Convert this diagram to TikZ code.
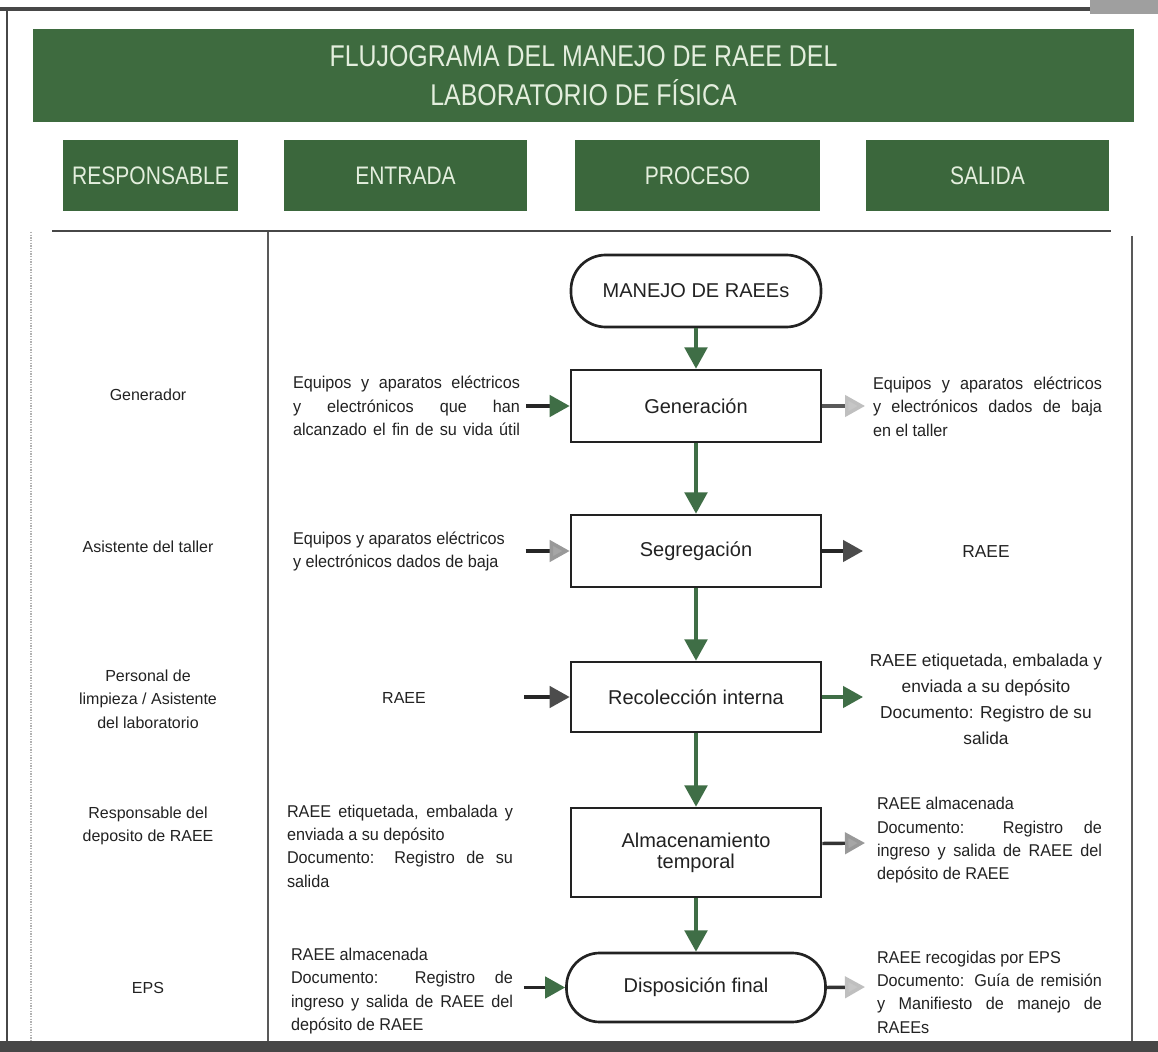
\documentclass[tikz,border=0pt]{standalone}
\usepackage{fontspec}
\setmainfont{Liberation Sans}
\newfontfamily\condfont[FakeStretch=0.83]{Liberation Sans}
\newfontfamily\narrowfont[FakeStretch=0.95]{Liberation Sans}
\usetikzlibrary{arrows.meta}
\definecolor{bannergreen}{HTML}{3E6B3F}
\definecolor{hdrgreen}{HTML}{3B673C}
\definecolor{lightgreen}{HTML}{E3EEDD}
\definecolor{arrowgreen}{HTML}{3F6E46}
\definecolor{ink}{HTML}{222222}
\definecolor{framegray}{HTML}{474747}
\begin{document}
\begin{tikzpicture}[x=0.75pt,y=-0.75pt,
  hdr/.style={fill=hdrgreen, text=lightgreen, minimum height=53.25pt, inner sep=0pt, font=\condfont\fontsize{19}{21}\selectfont},
  proc/.style={draw=ink, line width=2pt, fill=white, minimum width=187.5pt, minimum height=54pt, align=center, inner sep=2pt, text=ink, font=\fontsize{15}{16}\selectfont},
  term/.style={proc, rounded corners=26pt},
  body/.style={text=ink, inner sep=0pt, font=\fontsize{12}{17.5}\selectfont},
  jbody/.style={body, align=justify, font=\narrowfont\fontsize{12.8}{17.5}\selectfont},
  vflow/.style={draw=arrowgreen, line width=2.6pt, -{Triangle[length=16pt,width=17pt]}},
  hflow/.style={draw=#1, line width=2.6pt},
  tipgreen/.style={-{Triangle[length=15pt,width=16pt,fill=arrowgreen,color=arrowgreen]}},
  tipgray/.style={-{Triangle[length=15pt,width=16pt,fill=gray!70,color=gray!80]}},
  tiplight/.style={-{Triangle[length=15pt,width=16pt,fill=gray!45,color=gray!50]}},
  tipdark/.style={-{Triangle[length=15pt,width=16pt,fill=gray!60!black,color=gray!60!black]}}
]
\useasboundingbox (0,0) rectangle (1158,1052);
\fill[white] (0,0) rectangle (1158,1052);

% frame lines
\draw[framegray, line width=3pt] (0,9) -- (1090,9);
\fill[gray!75] (1090,0) rectangle (1158,14);
\draw[framegray, line width=1.2pt] (7,9) -- (7,1045);
\draw[gray!60, line width=1pt, densely dotted] (31,232) -- (31,1045);
\draw[gray!70!black, line width=1.3pt] (268,232) -- (268,1045);
\draw[framegray, line width=1.4pt] (52,231) -- (1111,231);
\draw[gray!70!black, line width=0.9pt] (1132,236) -- (1132,1045);
\fill[framegray] (0,1041) rectangle (1158,1052);

% title and headers
\node[fill=bannergreen, minimum width=825.75pt, minimum height=69.75pt, inner sep=0pt,
      text=lightgreen, align=center, font=\condfont\fontsize{22.5}{29.25}\selectfont]
      (title) at (583.5,75.5) {FLUJOGRAMA DEL MANEJO DE RAEE DEL\\LABORATORIO DE FÍSICA};
\node[hdr, minimum width=131.25pt] (hresp) at (150.5,175.5) {RESPONSABLE};
\node[hdr, minimum width=182.25pt] (hent) at (405.5,175.5) {ENTRADA};
\node[hdr, minimum width=183.75pt] (hproc) at (697.5,175.5) {PROCESO};
\node[hdr, minimum width=182.25pt] (hsal) at (987.5,175.5) {SALIDA};

% responsables
\node[body, align=center] (r1) at (148,395) {Generador};
\node[body, align=center] (r2) at (148,547) {Asistente del taller};
\node[body, align=center] (r3) at (148,699) {Personal de\\limpieza / Asistente\\del laboratorio};
\node[body, align=center] (r4) at (148,826) {Responsable del\\deposito de RAEE};
\node[body, align=center] (r5) at (148,988) {EPS};

% process
\node[term] (start) at (696,291) {MANEJO DE RAEEs};
\node[proc] (gen) at (696,406) {Generación};
\node[proc] (seg) at (696,551) {Segregación};
\node[proc, minimum height=52.5pt] (rec) at (696,697) {Recolección interna};
\node[proc, minimum height=66.75pt] (alm) at (696,852.5) {Almacenamiento\\temporal};
\node[term, minimum width=194.25pt, minimum height=51.75pt, rounded corners=25pt] (disp) at (696,987.5) {Disposición final};

\draw[vflow] (start) -- (gen);
\draw[vflow] (gen) -- (seg);
\draw[vflow] (seg) -- (rec);
\draw[vflow] (rec) -- (alm);
\draw[vflow] (alm) -- (disp);

% entradas
\node[jbody, text width=170.25pt] (e1) at (406.5,406) {Equipos y aparatos eléctricos\linebreak y electrónicos que han\linebreak \hbox to \linewidth{alcanzado\hfill el\hfill fin\hfill de\hfill su\hfill vida\hfill útil}};
\node[jbody, text width=168.75pt] (e2) at (405.5,551.5) {Equipos y aparatos eléctricos\\y electrónicos dados de baja};
\node[body] (e3) at (404,698) {RAEE};
\node[jbody, text width=169.5pt] (e4) at (400,846) {RAEE etiquetada, embalada y\linebreak enviada a su depósito\\Documento: Registro de su\linebreak salida};
\node[jbody, text width=166.5pt] (e5) at (402,991) {RAEE almacenada\\Documento: Registro de\linebreak ingreso y salida de RAEE del\linebreak depósito de RAEE};

\coordinate (c3) at (524,697);
\draw[hflow=gray!30!black, tipgreen, shorten <=4.5pt] (e1.east |- gen.west) -- (gen.west);
\draw[hflow=gray!30!black, tipgray, shorten <=5.5pt] (e2.east |- seg.west) -- (seg.west);
\draw[hflow=gray!30!black, tipdark] (c3) -- (rec.west);
\draw[hflow=gray!30!black, tipgreen, shorten <=8pt] (e5.east |- disp.west) -- (disp.west);

% salidas
\node[jbody, text width=171.75pt] (s1) at (987.5,406.5) {Equipos y aparatos eléctricos\linebreak y electrónicos dados de baja\linebreak en el taller};
\node[body, font=\fontsize{13}{17.5}\selectfont] (s2) at (986,552) {RAEE};
\node[body, align=center, font=\fontsize{13}{19.5}\selectfont] (s3) at (986,699) {RAEE etiquetada, embalada y\\enviada a su depósito\\Documento: Registro de su\\salida};
\node[jbody, text width=168.75pt] (s4) at (989.5,840.5) {RAEE almacenada\\Documento: Registro de\linebreak ingreso y salida de RAEE del\linebreak depósito de RAEE};
\node[jbody, text width=168.75pt] (s5) at (989.5,992) {RAEE recogidas por EPS\\Documento: Guía de remisión\linebreak y Manifiesto de manejo de\linebreak RAEEs};

\coordinate (o1) at (865,406);
\coordinate (o2) at (863,551);
\coordinate (o3) at (863,697);
\coordinate (o4) at (865,843);
\coordinate (o5) at (865,987);
\draw[hflow=gray!70!black, tiplight] (gen.east) -- (o1);
\draw[hflow=gray!30!black, tipdark] (seg.east) -- (o2);
\draw[hflow=arrowgreen, tipgreen] (rec.east) -- (o3);
\draw[hflow=gray!40!black, tipgray] ([yshift=6.75pt]alm.east) -- (o4);
\draw[hflow=gray!40!black, tiplight] (disp.east) -- (o5);
\end{tikzpicture}
\end{document}
